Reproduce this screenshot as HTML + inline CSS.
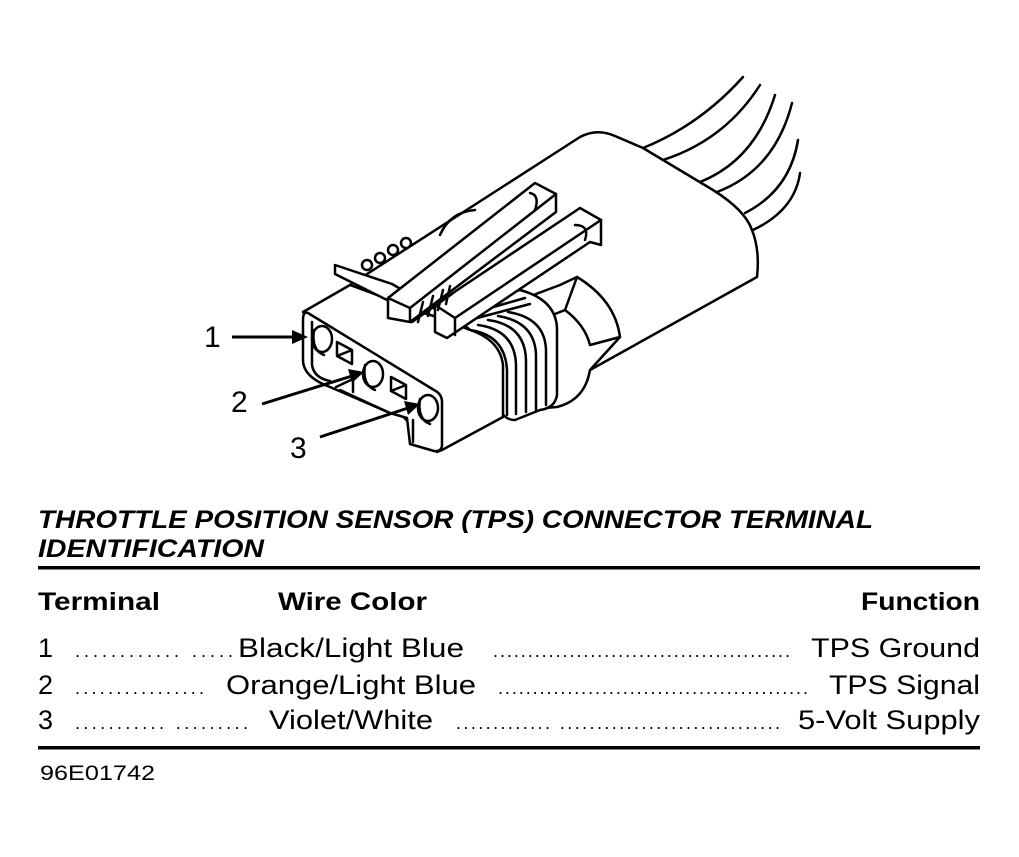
<!DOCTYPE html>
<html><head><meta charset="utf-8"><style>
html,body{margin:0;padding:0;background:#fff;}
svg{display:block;}
text{font-family:"Liberation Sans",sans-serif;fill:#000;}
</style></head><body>
<svg width="1019" height="857" viewBox="0 0 1019 857" xmlns="http://www.w3.org/2000/svg">
<g fill="none" stroke="#000" stroke-width="2.5" stroke-linejoin="round" stroke-linecap="round">
<!-- wires -->
<path d="M643 148 Q700 125 743 77"/>
<path d="M663 160 Q725 140 760 85"/>
<path d="M700 182 Q755 160 775 95"/>
<path d="M717 192 Q775 170 792 103"/>
<path d="M745 213 Q790 190 798 140"/>
<path d="M753 230 Q795 210 800 173"/>
<!-- main body -->
<path d="M350 285 L580 137 Q597 128 615 136 L643 148 L713 190 Q745 210 752 230 Q760 250 757 277 L590 370 L520 390" fill="#fff"/>
<!-- boss -->
<path d="M560 285 L577 277 Q615 300 620 337 L590 370 Q585 400 557 407 L520 410 L520 300 Z" fill="#fff"/>
<path d="M577 277 L565 310 Q585 325 590 345 L620 337"/>
<path d="M565 310 L540 320"/>
<!-- ribs -->
<path d="M447 310 L520 290 Q557 300 557 330 L557 395 Q555 408 540 410 L515 420 Q505 420 500 410 L500 365 Q498 340 470 330 Z" fill="#fff"/>
<path d="M455 318 L525 298 M462 322 L530 304 M470 330 Q505 335 507 370 L507 415 M478 325 Q515 330 516 365 L516 414 M488 320 Q525 325 526 360 L526 412 M498 316 Q535 322 536 355 L536 410 M508 312 Q545 318 546 350 L546 405"/>
<!-- front housing block -->
<path d="M303 312 L350 285 L437 317 L470 330 Q500 340 503 365 L503 417 L442 450 L437 452 Z" fill="#fff"/>
<!-- front face -->
<path d="M308 313 L434 390 Q442 394 442 402 L442 446 Q441 452 434 451 L410 444 L407 418 L390 413 L330 387 Q303 377 303 360 L303 320 Q303 311 308 313 Z" fill="#fff"/>
<path d="M312 322 L312 365 Q314 378 330 381"/>
<path d="M340 390 L390 413"/>
<path d="M413 420 L413 442"/>
<!-- holes -->
<ellipse cx="322" cy="339" rx="10" ry="13" fill="#fff"/>
<path d="M314 330 Q311 350 324 355"/>
<ellipse cx="373" cy="374" rx="10" ry="13" fill="#fff"/>
<path d="M365 365 Q362 385 375 390"/>
<ellipse cx="428" cy="408" rx="10" ry="13" fill="#fff"/>
<path d="M420 399 Q417 419 430 424"/>
<!-- squares -->
<path d="M337 342 L352 350 L352 364 L337 356 Z M337 356 L352 350"/>
<path d="M391 377 L406 385 L406 399 L391 391 Z M391 391 L406 385"/>
<path d="M336 387 L353 379 L353 392"/>
<!-- latch plate -->
<path d="M335 265 L392 284 L437 310 L437 317 L397 305 L335 274 Z" fill="#fff"/>
<!-- rail 1 -->
<path d="M388 298 L535 183 L556 194 L556 212 L410 322 L388 318 Z" fill="#fff"/>
<path d="M388 298 L410 308 L556 194 M410 308 L410 322"/>
<!-- rail 2 -->
<path d="M435 305 L580 208 L601 220 L601 245 L590 242 L447 338 L435 332 Z" fill="#fff"/>
<path d="M435 305 L455 318 L601 220 M455 318 L455 335"/>
<!-- grille between rails -->
<path d="M412 322 L452 294 M418 322 L423 302 M428 316 L433 296 M438 310 L443 290 M446 304 L450 286"/>
<circle cx="367" cy="265" r="5" fill="#fff"/><circle cx="380" cy="258" r="5" fill="#fff"/><circle cx="393" cy="250" r="5" fill="#fff"/><circle cx="406" cy="243" r="5" fill="#fff"/>
<path d="M440 235 Q450 212 475 210"/>
<path d="M575 225 Q590 225 585 240"/>
<path d="M530 193 Q540 195 535 210"/>
</g>
<!-- arrows -->
<g stroke="#000" stroke-width="3" fill="#000">
<line x1="232" y1="337" x2="296" y2="337"/>
<polygon points="308,337 292,330 292,344" stroke="none"/>
<line x1="262" y1="404" x2="352" y2="376"/>
<polygon points="364,372 348,369 352,383" stroke="none"/>
<line x1="320" y1="437" x2="408" y2="408"/>
<polygon points="420,404 404,401 408,415" stroke="none"/>
</g>
<text x="204" y="347" font-size="30">1</text>
<text x="231" y="412" font-size="30">2</text>
<text x="290" y="458" font-size="30">3</text>

<!-- title -->
<text x="38" y="528" font-size="25" font-weight="bold" font-style="italic" textLength="835" lengthAdjust="spacingAndGlyphs">THROTTLE POSITION SENSOR (TPS) CONNECTOR TERMINAL</text>
<text x="38" y="557" font-size="25" font-weight="bold" font-style="italic" textLength="226" lengthAdjust="spacingAndGlyphs">IDENTIFICATION</text>
<rect x="38" y="566" width="942" height="3.5" fill="#000"/>
<text x="38" y="610" font-size="25" font-weight="bold" textLength="122" lengthAdjust="spacingAndGlyphs">Terminal</text>
<text x="278" y="610" font-size="25" font-weight="bold" textLength="149" lengthAdjust="spacingAndGlyphs">Wire Color</text>
<text x="861" y="610" font-size="25" font-weight="bold" textLength="119" lengthAdjust="spacingAndGlyphs">Function</text>

<g font-size="27">
<text x="38" y="657">1</text>
<text x="75" y="657" textLength="158" lengthAdjust="spacing" font-size="18">............ .....</text>
<text x="238" y="657" textLength="226" lengthAdjust="spacingAndGlyphs">Black/Light Blue</text>
<text x="493" y="657" textLength="297" lengthAdjust="spacing" font-size="18">...........................................</text>
<text x="811" y="657" textLength="169" lengthAdjust="spacingAndGlyphs">TPS Ground</text>

<text x="38" y="694">2</text>
<text x="75" y="694" textLength="129" lengthAdjust="spacing" font-size="18">................</text>
<text x="226" y="694" textLength="250" lengthAdjust="spacingAndGlyphs">Orange/Light Blue</text>
<text x="498" y="694" textLength="310" lengthAdjust="spacing" font-size="18">.............................................</text>
<text x="829" y="694" textLength="151" lengthAdjust="spacingAndGlyphs">TPS Signal</text>

<text x="38" y="729">3</text>
<text x="75" y="729" textLength="173" lengthAdjust="spacing" font-size="18">........... .........</text>
<text x="269" y="729" textLength="164" lengthAdjust="spacingAndGlyphs">Violet/White</text>
<text x="456" y="729" textLength="324" lengthAdjust="spacing" font-size="18">............. ..............................</text>
<text x="798" y="729" textLength="182" lengthAdjust="spacingAndGlyphs">5-Volt Supply</text>
</g>
<rect x="38" y="746" width="942" height="3.5" fill="#000"/>
<text x="40" y="780" font-size="21" textLength="115" lengthAdjust="spacingAndGlyphs">96E01742</text>
</svg>
</body></html>
